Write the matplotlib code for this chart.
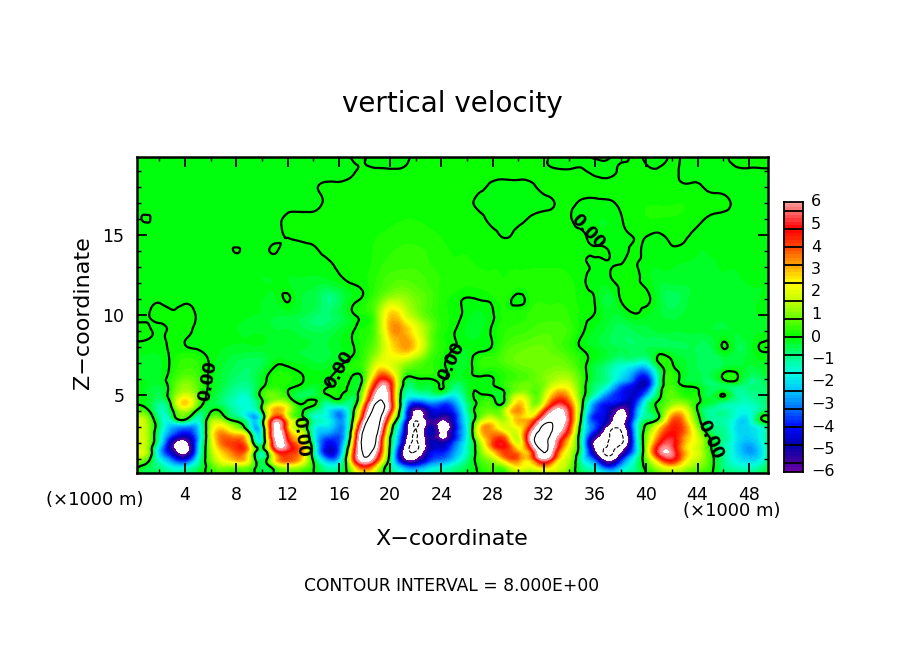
import numpy as np
import matplotlib
matplotlib.use("Agg")
import matplotlib.pyplot as plt
import matplotlib.tri as mtri

x_km = list(range(51))
z_km = [0, 0.5, 1, 1.5, 2, 2.5, 3, 3.5, 4, 4.5, 5, 5.5, 6, 7, 8, 9, 10, 11, 12, 13, 14, 15, 16, 17, 18, 19, 20]

# vertical velocity, one list per height
w_z00 = [0.1,-0.2,-0.4,-0.9,-0.9,-0.4,0.2,0.5,0.5,0.4,
         -0.3,0.3,0.8,0.6,0.05,-0.6,-0.6,0.7,2.0,1.0,
         -0.4,-1.4,-1.7,-1.2,-0.9,-0.6,-0.2,0.1,0.3,0.5,
         1.2,1.0,1.5,1.3,0.5,-0.5,-1.0,-2.0,-1.3,-0.6,
         0.1,0.8,1.2,1.0,0.5,0.1,-0.4,-0.6,-0.7,-0.5,0.1]
w_z05 = [0.3,-0.4,-0.9,-1.8,-1.9,-0.8,0.4,1.1,1.0,0.8,
         -0.6,0.6,1.6,1.2,0.1,-1.3,-1.2,1.5,4.2,2.0,
         -0.9,-2.8,-3.4,-2.4,-1.8,-1.2,-0.5,0.2,0.6,1.0,
         2.4,2.0,3.0,2.0,1.0,-1.0,-2.0,-4.0,-2.6,-1.2,
         0.3,1.6,2.5,1.6,1.0,0.3,-0.8,-1.3,-1.5,-1.0,0.3]
w_z10 = [1.0,0.6,-1.8,-3.5,-4.6,-1.8,0.9,2.4,3.2,2.0,
         -0.9,2.4,4.0,3.0,-0.2,-3.0,-2.6,3.0,7.6,4.5,
         -0.6,-5.6,-6.2,-4.2,-3.4,-2.4,-1.0,0.5,1.4,3.2,
         3.6,3.2,6.4,3.2,1.4,-1.6,-4.0,-7.0,-4.6,-1.8,
         0.8,3.6,5.0,2.8,1.6,0.4,-0.9,-1.8,-2.3,-1.8,0.2]
w_z15 = [1.4,1.4,-2.4,-5.2,-6.8,-2.6,1.2,3.0,4.0,2.6,
         -0.8,3.8,4.8,3.6,-0.6,-4.4,-3.6,2.6,8.6,6.0,
         -0.3,-6.0,-8.1,-5.0,-4.2,-3.0,-1.4,0.8,2.8,4.2,
         3.0,4.0,8.2,4.6,1.8,-1.4,-6.0,-8.4,-6.6,-3.2,
         1.2,5.4,5.6,3.0,1.8,0.2,-1.0,-2.0,-2.8,-2.0,0.1]
w_z20 = [1.6,1.4,-1.6,-5.4,-6.6,-2.8,1.4,3.8,4.2,2.0,
         -1.1,5.8,5.2,3.0,-1.0,-4.0,-3.6,1.6,9.4,7.0,
         0.0,-5.0,-8.3,-5.2,-5.0,-3.6,-1.6,1.2,4.0,4.4,
         1.8,6.2,8.8,5.6,2.4,-1.6,-6.6,-8.0,-8.4,-3.6,
         1.0,4.4,5.2,3.0,1.9,0.1,-1.0,-2.0,-2.6,-1.8,0.1]
w_z25 = [1.8,1.4,-1.2,-3.6,-4.6,-2.8,1.6,3.6,3.0,0.9,
         -1.4,6.6,4.2,2.2,-1.4,-3.0,-3.4,0.8,9.2,7.8,
         0.4,-4.2,-8.2,-5.0,-6.4,-4.4,-1.8,2.2,3.6,3.0,
         1.8,6.4,8.8,6.6,3.4,-1.4,-5.0,-7.6,-8.4,-3.4,
         0.8,3.4,4.8,3.4,1.7,-0.3,-0.9,-1.9,-2.2,-1.6,0.1]
w_z30 = [1.8,1.4,-0.8,-2.6,-3.0,-2.4,1.4,2.4,1.0,-1.2,
         -1.2,6.4,3.2,1.2,-1.4,-2.0,-3.0,0.0,8.0,8.8,
         1.2,-3.6,-8.1,-5.2,-6.8,-4.8,-1.8,2.4,3.0,1.8,
         2.4,4.6,8.4,7.4,4.4,-1.0,-3.6,-6.5,-7.4,-3.0,
         0.3,2.4,4.4,3.6,1.0,-0.8,-1.0,-2.0,-2.1,-1.4,-0.1]
w_z35 = [1.4,1.2,-1.0,-0.9,0.2,-1.4,0.8,0.6,-0.5,-2.0,
         -1.0,5.0,2.4,0.7,-1.2,-1.6,-3.0,-0.5,6.0,9.2,
         3.0,-2.4,-7.4,-5.4,-5.8,-4.4,-1.6,0.9,1.8,1.4,
         3.0,3.0,6.4,7.4,5.0,-0.6,-4.0,-5.0,-7.0,-3.6,
         -0.8,0.2,3.6,3.0,0.4,-1.0,-1.1,-1.8,-1.9,0.05,-0.2]
w_z40 = [0.3,0.3,-1.2,-0.2,1.4,-0.3,-0.1,-0.3,-1.2,-1.8,
         -0.2,3.2,1.9,0.2,-0.8,-1.6,-2.8,-0.7,4.5,9.0,
         5.0,-1.8,-6.4,-5.0,-4.4,-3.8,-1.2,0.5,0.7,1.6,
         3.4,1.8,4.0,6.6,4.8,-0.1,-3.6,-4.6,-6.4,-4.0,
         -1.0,0.2,2.2,2.2,0.0,-1.0,-1.0,-1.5,-1.6,-0.8,-0.2]
w_z45 = [-0.1,-0.2,-0.9,0.5,2.8,0.8,-0.4,-0.8,-1.4,-1.5,
         -0.1,1.6,1.2,-0.1,0.2,-1.0,-0.6,-0.8,3.0,8.2,
         5.6,-1.2,-4.0,-3.2,-3.4,-3.0,-0.9,0.2,0.3,0.3,
         2.8,1.2,2.0,4.8,3.8,0.2,-3.0,-4.0,-4.6,-4.4,
         -1.4,0.2,1.0,1.0,0.1,-0.4,-0.9,-1.2,-1.3,-0.9,-0.3]
w_z50 = [-0.1,-0.2,-0.5,0.6,1.8,0.8,-0.2,-0.7,-1.2,-1.2,
         0.3,0.8,0.1,-0.6,-0.5,-0.1,0.1,-0.4,1.8,7.0,
         5.4,-0.7,-1.5,-1.2,-1.0,-1.8,-0.5,0.05,-0.1,0.1,
         1.6,0.9,1.4,3.4,2.8,0.4,-1.4,-3.2,-4.0,-4.6,
         -3.0,-0.3,0.7,0.2,0.1,-0.5,0.05,-0.9,-1.0,-0.8,-0.3]
w_z55 = [-0.1,-0.2,-0.4,0.4,1.2,0.6,-0.1,-0.5,-0.9,-0.9,
         -0.1,0.3,0.1,-0.1,-0.3,-0.05,0.08,-0.2,1.0,5.5,
         5.0,-0.1,-0.5,-0.4,0.05,-0.8,-0.3,-0.1,-0.05,0.3,
         0.8,0.8,1.0,2.2,2.0,0.4,-0.8,-1.8,-3.6,-4.4,
         -4.4,-0.8,0.5,0.05,-0.1,-0.6,-0.6,-0.8,-0.8,-0.7,-0.3]
w_z60 = [-0.1,-0.2,-0.2,0.3,0.8,0.5,-0.1,-0.4,-0.7,-0.7,
         -0.2,0.2,0.2,0.05,-0.1,-0.02,0.05,-0.05,0.4,4.0,
         4.0,0.3,-0.1,-0.03,0.1,-0.3,-0.15,-0.1,-0.02,0.3,
         0.5,0.7,1.0,1.4,1.4,0.4,-0.5,-1.0,-2.2,-3.4,
         -4.4,-1.0,0.4,-0.3,-0.4,-0.6,0.02,0.1,-0.7,-0.6,-0.3]
w_z70 = [-0.2,-0.2,-0.2,0.1,0.4,0.3,-0.05,-0.3,-0.5,-0.6,
         -0.5,-0.1,-0.1,-0.2,-0.3,-0.3,-0.1,0.15,0.5,1.8,
         2.0,1.4,0.8,0.4,0.1,-0.2,-0.2,0.3,0.4,0.6,
         0.8,0.9,0.9,0.9,0.7,0.2,-0.3,-0.7,-1.2,-1.4,
         -1.6,0.02,0.05,-0.3,-0.5,-0.6,-0.5,-0.4,-0.3,-0.2,-0.1]
w_z80 = [-0.1,-0.1,-0.1,0.05,0.02,-0.05,-0.1,-0.15,-0.2,-0.2,
         -0.2,-0.25,-0.3,-0.3,-0.35,-0.35,-0.2,-0.05,0.3,1.0,
         2.4,3.2,2.6,1.0,0.25,0.02,-0.15,-0.1,0.03,0.5,
         0.7,0.8,0.8,0.6,0.3,-0.05,-0.2,-0.4,-0.5,-0.6,
         -0.5,-0.5,-0.5,-0.5,-0.5,-0.5,0.03,-0.4,-0.3,0.03,-0.1]
w_z90 = [0.1,0.05,-0.03,0.05,0.05,-0.05,-0.1,-0.1,-0.15,-0.2,
         -0.2,-0.3,-0.3,-0.4,-0.5,-0.5,-0.3,-0.05,0.2,0.9,
         3.0,3.2,2.2,1.0,0.25,0.02,-0.2,-0.2,0.05,0.3,
         0.4,0.5,0.6,0.6,0.4,0.05,-0.2,-0.4,-0.6,-0.5,
         -0.4,-0.3,-0.3,-0.3,-0.3,-0.3,-0.3,-0.3,-0.2,-0.2,-0.1]
w_z100 = [-0.1,-0.02,0.05,0.02,0.05,-0.02,-0.1,-0.1,-0.1,-0.15,
          -0.2,-0.3,-0.3,-0.4,-0.6,-0.7,-0.5,-0.1,0.15,0.9,
          2.8,2.2,1.2,0.6,0.25,0.1,-0.1,-0.2,-0.03,0.2,
          0.25,0.35,0.4,0.4,0.3,0.1,-0.02,-0.25,-0.3,-0.05,
          -0.15,-0.3,-0.4,-0.3,-0.3,-0.3,-0.25,-0.2,-0.2,-0.15,-0.1]
w_z110 = [-0.1,-0.05,-0.02,-0.05,-0.02,-0.05,-0.1,-0.1,-0.1,-0.1,
          -0.15,-0.2,0.03,-0.3,-0.4,-0.8,-0.6,-0.15,0.1,0.6,
          1.3,1.3,0.9,0.6,0.25,0.1,-0.02,0.02,0.1,0.2,
          -0.1,0.2,0.3,0.3,0.25,0.1,-0.02,-0.4,0.02,0.1,
          0.05,-0.3,-0.6,-0.4,-0.3,-0.3,-0.25,-0.2,-0.2,-0.15,-0.1]
w_z120 = [-0.08,-0.08,-0.08,-0.08,-0.1,-0.1,-0.1,-0.1,-0.1,-0.1,
          -0.15,-0.15,-0.15,-0.2,-0.25,-0.3,-0.15,0.01,0.1,0.35,
          0.6,0.7,0.6,0.45,0.3,0.25,0.2,0.2,0.2,0.2,
          0.2,0.25,0.25,0.25,0.2,0.05,-0.1,-0.1,0.03,0.03,
          -0.05,-0.3,-0.3,-0.3,-0.25,-0.25,-0.2,-0.2,-0.15,-0.15,-0.1]
w_z130 = [-0.08,-0.08,-0.08,-0.08,-0.08,-0.08,-0.08,-0.08,-0.08,-0.08,
          -0.1,-0.1,-0.1,-0.1,-0.1,-0.05,0.02,0.05,0.1,0.25,
          0.4,0.45,0.45,0.35,0.25,0.2,0.2,0.15,0.15,0.15,
          0.15,0.15,0.15,0.15,0.1,0.03,-0.02,-0.02,0.03,0.03,
          -0.1,-0.15,-0.15,-0.2,-0.2,-0.2,-0.15,-0.15,-0.1,-0.1,-0.1]
w_z140 = [-0.06,-0.06,-0.06,-0.06,-0.06,-0.06,-0.05,-0.05,0.005,-0.05,
          -0.05,0.01,-0.05,-0.05,-0.03,0.03,0.05,0.08,0.1,0.2,
          0.3,0.35,0.35,0.3,0.2,0.15,0.15,0.12,0.1,0.1,
          0.1,0.1,0.1,0.1,0.08,0.05,0.02,0.01,-0.1,0.05,
          -0.05,-0.02,-0.02,-0.05,-0.15,-0.15,-0.15,-0.12,-0.1,-0.1,-0.1]
w_z150 = [-0.1,-0.06,-0.05,-0.05,-0.05,-0.05,-0.05,-0.05,-0.05,-0.05,
          -0.04,-0.03,0.01,0.03,0.05,0.05,0.05,0.08,0.1,0.15,
          0.2,0.25,0.25,0.2,0.15,0.12,0.1,0.08,0.05,-0.02,
          0.05,0.08,0.08,0.08,0.05,0.03,-0.1,-0.15,-0.1,0.02,
          0.02,-0.02,0.05,0.03,-0.05,-0.1,-0.1,-0.1,-0.1,-0.1,-0.1]
w_z160 = [-0.08,0.01,-0.05,-0.05,-0.05,-0.05,-0.05,-0.05,-0.05,-0.05,
          -0.03,-0.02,0.02,0.03,0.03,0.03,0.05,0.05,0.08,0.1,
          0.12,0.15,0.15,0.12,0.1,0.1,0.08,0.04,-0.05,-0.08,
          -0.05,0.02,0.05,0.05,0.02,-0.1,-0.15,-0.15,-0.02,0.1,
          0.15,0.15,0.15,0.12,0.05,-0.03,-0.05,-0.05,-0.05,-0.05,-0.05]
w_z170 = [-0.04,-0.04,-0.03,-0.03,-0.03,-0.03,-0.03,-0.03,-0.03,-0.03,
          -0.03,-0.03,-0.03,-0.03,-0.02,0.01,0.03,0.03,0.04,0.05,
          0.06,0.08,0.08,0.08,0.06,0.05,0.03,-0.03,-0.05,-0.05,
          -0.05,-0.05,-0.03,0.01,0.03,-0.02,-0.03,-0.02,0.03,0.1,
          0.15,0.15,0.15,0.15,0.1,0.06,0.03,-0.02,-0.03,-0.03,-0.03]
w_z180 = [-0.03,-0.03,-0.03,-0.03,-0.03,-0.03,-0.03,-0.03,-0.03,-0.03,
          -0.03,-0.03,-0.03,-0.03,-0.01,0.01,0.01,0.02,0.03,0.03,
          0.04,0.05,0.05,0.05,0.05,0.04,0.03,0.02,-0.02,-0.03,
          -0.03,-0.02,0.03,0.04,0.04,0.03,0.03,0.03,0.03,0.05,
          0.06,0.06,0.04,0.02,0.02,-0.03,-0.03,-0.03,-0.03,-0.03,-0.03]
w_z190 = [-0.03,-0.03,-0.03,-0.03,-0.03,-0.03,-0.03,-0.03,-0.03,-0.03,
          -0.03,-0.03,-0.03,-0.03,-0.03,-0.03,-0.03,-0.01,0.01,0.01,
          0.01,0.01,0.03,0.03,0.03,0.03,0.03,0.03,0.03,0.03,
          0.03,0.03,0.02,0.01,0.01,0.01,-0.02,-0.02,0.01,0.02,
          0.01,0.01,0.02,-0.02,-0.03,-0.03,-0.03,-0.01,-0.01,-0.01,-0.01]
w_z200 = [-0.05,-0.05,-0.05,-0.05,-0.05,-0.05,-0.05,-0.05,-0.05,-0.05,
          -0.05,-0.05,-0.05,-0.05,-0.05,-0.05,-0.05,0.01,0.01,-0.06,
          -0.06,-0.04,0.03,0.03,0.03,0.03,0.03,0.03,0.03,0.03,
          0.03,0.03,0.03,-0.06,-0.06,-0.04,0.03,0.03,-0.06,0.03,
          -0.02,-0.06,0.02,-0.02,-0.03,-0.03,-0.03,0.05,0.05,0.05,0.05]

w_rows = [w_z00, w_z05, w_z10, w_z15, w_z20, w_z25, w_z30, w_z35, w_z40, w_z45,
          w_z50, w_z55, w_z60, w_z70, w_z80, w_z90, w_z100, w_z110, w_z120,
          w_z130, w_z140, w_z150, w_z160, w_z170, w_z180, w_z190, w_z200]

x_ticks_major = [4, 8, 12, 16, 20, 24, 28, 32, 36, 40, 44, 48]
z_ticks_major = [5, 10, 15]
bar_labels = [6, 5, 4, 3, 2, 1, 0, -1, -2, -3, -4, -5, -6]

# colour at the level steps of the colour bar
key_levels = [-6, -5.6, -4.8, -4, -3.2, -2.4, -1.6, -0.8, 0, 0.8, 1.6, 2.4, 3.2, 4, 4.8, 5.6, 6]
key_colors = [(115, 0, 170), (70, 0, 155), (0, 0, 175), (0, 10, 255), (0, 110, 255), (0, 195, 255),
              (0, 255, 225), (0, 255, 130), (0, 255, 0), (100, 255, 0), (195, 255, 0), (255, 255, 0),
              (255, 165, 0), (255, 70, 0), (255, 0, 0), (255, 110, 110), (255, 160, 160)]

# where the 0.00 labels sit on the zero line: x, z, angle
label_spots = [(5.8, 5.9, 80), (13.05, 2.4, -83), (16.0, 6.6, 60),
               (24.75, 7.1, 65), (35.4, 15.2, -47), (45.0, 2.2, -66)]

W, H = 904, 654


def band_colors(levels):
    mids = (np.array(levels[:-1]) + np.array(levels[1:])) / 2
    key = np.array(key_colors) / 255
    return [tuple(np.interp(m, key_levels, key[:, i]) for i in range(3)) for m in mids]


def px_axes(left, top, right, bottom):
    return fig.add_axes([left / W, 1 - bottom / H, (right - left) / W, (bottom - top) / H])


steps = [round(0.16 * k, 2) for k in range(-37, 38)]
fill_levels = [-6] + steps + [6]

X, Z = np.meshgrid(x_km, z_km)
w = np.array(w_rows)
tri = mtri.Triangulation(X.ravel(), Z.ravel())
tri_fine, w_fine = mtri.UniformTriRefiner(tri).refine_field(w.ravel(), subdiv=3)

fig = plt.figure(figsize=(W / 100, H / 100), dpi=100, facecolor="white")
ax = px_axes(137, 157, 768, 473)
ax.tricontourf(tri_fine, w_fine, levels=fill_levels, colors=band_colors(fill_levels))
ax.tricontour(tri_fine, w_fine, levels=[0], colors="black", linewidths=1.6)
ax.tricontour(tri_fine, w_fine, levels=[8], colors="black", linewidths=0.8)
ax.tricontour(tri_fine, w_fine, levels=[-8], colors="black", linewidths=0.8, linestyles="dashed")
for lx, lz, ang in label_spots:
    ax.text(lx, lz, "0.00", rotation=ang, rotation_mode="anchor", ha="center", va="center",
            fontsize=12, fontweight="bold", color="black")

ax.set_xlim(0.25, 49.5)
ax.set_ylim(0.125, 19.875)
ax.set_xticks(x_ticks_major)
ax.set_xticks(np.arange(2, 50, 4), minor=True)
ax.set_yticks(z_ticks_major)
ax.set_yticks([v for v in range(1, 20) if v % 5], minor=True)
ax.tick_params(which="major", direction="in", top=True, right=True, length=7, width=1.3,
               labelsize=12.5, pad=9)
ax.tick_params(which="minor", direction="in", top=True, right=True, length=3, width=1)
for s in ax.spines.values():
    s.set_linewidth(1.8)

# colour bar
cax = px_axes(784, 202, 803, 472)
bar_edges = np.array(fill_levels)
cax.pcolormesh([0, 1], bar_edges, np.arange(len(bar_edges) - 1).reshape(-1, 1),
               cmap=matplotlib.colors.ListedColormap(band_colors(fill_levels)))
cax.hlines([round(0.8 * k, 1) for k in range(-7, 8)], 0, 1, colors="black", linewidth=1.3)
cax.set_xlim(0, 1)
cax.set_ylim(-6, 6)
cax.set_xticks([])
cax.set_yticks([])
for s in cax.spines.values():
    s.set_linewidth(1.3)
for v in bar_labels:
    cax.text(1.42, v, str(v).replace("-", "\u2212"), ha="left", va="center", fontsize=11.5)

fig.text(452 / W, 1 - 104 / H, "vertical velocity", ha="center", va="center", fontsize=20)
fig.text(452 / W, 1 - 539 / H, "X\u2212coordinate", ha="center", va="center", fontsize=16)
fig.text(83 / W, 1 - 313 / H, "Z\u2212coordinate", ha="center", va="center", fontsize=16, rotation=90)
fig.text(95 / W, 1 - 500 / H, "(\u00d71000 m)", ha="center", va="center", fontsize=13)
fig.text(732 / W, 1 - 511 / H, "(\u00d71000 m)", ha="center", va="center", fontsize=13)
fig.text(452 / W, 1 - 586 / H, "CONTOUR INTERVAL = 8.000E+00", ha="center", va="center", fontsize=12.3)

fig.savefig("out.png", dpi=100)
